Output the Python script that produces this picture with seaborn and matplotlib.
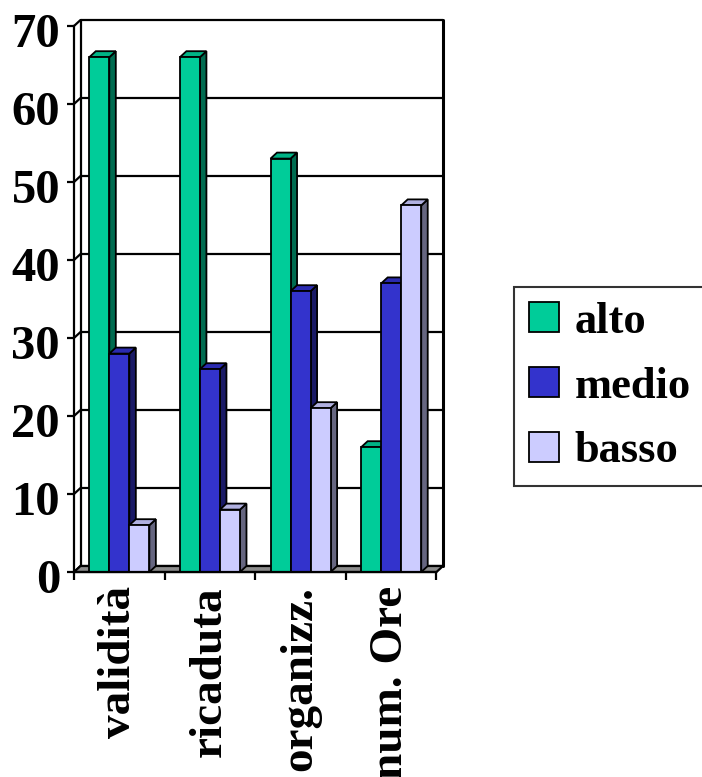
import matplotlib
matplotlib.use("Agg")
import matplotlib.pyplot as plt
import matplotlib.transforms as mtransforms
from matplotlib.patches import Polygon, Rectangle
import seaborn as sns
import pandas as pd

categories = ["validità", "ricaduta", "organizz.", "num. Ore"]
series = ["alto", "medio", "basso"]
alto = [66, 66, 53, 16]
medio = [28, 26, 36, 37]
basso = [6, 8, 21, 47]
yticks = [0, 10, 20, 30, 40, 50, 60, 70]

front_colors = ["#00CC99", "#3333CC", "#CCCCFF"]
side_colors = ["#006B50", "#1A1A66", "#666680"]
top_colors = ["#00B386", "#2B2BB0", "#B0B0E0"]

rows = []
for s, vals in zip(series, [alto, medio, basso]):
    for c, v in zip(categories, vals):
        rows.append({"cat": c, "serie": s, "val": v})
df = pd.DataFrame(rows)

sns.set_style("white")
plt.rcParams["font.family"] = ["Liberation Serif", "DejaVu Serif"]
plt.rcParams["font.weight"] = "bold"
for k in ["text.color", "xtick.color", "ytick.color", "axes.labelcolor",
          "xtick.labelcolor", "ytick.labelcolor"]:
    plt.rcParams[k] = "black"

W, H = 702, 777
fig = plt.figure(figsize=(W / 100, H / 100), dpi=100)
left_px, right_px, bottom_px, top_px = 74, 443, 572, 20
ax = fig.add_axes([left_px / W, (H - bottom_px) / H,
                   (right_px - left_px) / W, (bottom_px - top_px) / H])

sns.barplot(data=df, x="cat", y="val", hue="serie", order=categories,
            hue_order=series, palette=front_colors, saturation=1,
            width=0.663, edgecolor="black", linewidth=1.3, ax=ax,
            legend=True)

handles, labels = ax.get_legend_handles_labels()
ax.get_legend().remove()

bars = [p for p in ax.patches if isinstance(p, Rectangle)
        and p.get_height() > 0 and p.get_width() < 0.5]
bars.sort(key=lambda p: p.get_x())

# depth in data units
px_per_x = (right_px - left_px) / (4 + 0.075)
d = 6.5 / px_per_x
e = 6.0 / 7.8

ax.set_xlim(-0.5, 3.5 + d)
ax.set_ylim(0, 70 + e)

lw = 1.6
# floor
ax.add_patch(Polygon([(-0.5, 0), (3.5, 0), (3.5 + d, e), (-0.5 + d, e)],
                     closed=True, facecolor="#8C8C8C", edgecolor="black",
                     linewidth=lw, zorder=1, clip_on=False))
# back wall gridlines and left wall diagonals
for t in yticks:
    ax.plot([-0.5 + d, 3.5 + d], [t + e, t + e], color="black", lw=lw,
            zorder=0.5, clip_on=False)
    ax.plot([-0.5, -0.5 + d], [t, t + e], color="black", lw=lw,
            zorder=0.5, clip_on=False)
ax.plot([-0.5 + d, -0.5 + d], [e, 70 + e], color="black", lw=lw, zorder=0.5,
        clip_on=False)
ax.plot([3.5 + d, 3.5 + d], [e, 70 + e], color="black", lw=lw + 0.6,
        zorder=0.5, clip_on=False)

# 3D faces of bars
for j, p in enumerate(bars):
    x, w, h = p.get_x(), p.get_width(), p.get_height()
    fc = p.get_facecolor()
    idx = min(range(3), key=lambda k: sum(abs(a - b) for a, b in zip(
        matplotlib.colors.to_rgb(front_colors[k]), fc[:3])))
    z = 10 + 3 * j
    p.set_zorder(z + 1)
    ax.add_patch(Polygon([(x + w, 0), (x + w + d, e), (x + w + d, h + e),
                          (x + w, h)], closed=True,
                         facecolor=side_colors[idx], edgecolor="black",
                         linewidth=1.3, zorder=z, clip_on=False))
    ax.add_patch(Polygon([(x, h), (x + w, h), (x + w + d, h + e),
                          (x + d, h + e)], closed=True,
                         facecolor=top_colors[idx], edgecolor="black",
                         linewidth=1.3, zorder=z, clip_on=False))

for s in ["top", "right"]:
    ax.spines[s].set_visible(False)
ax.spines["left"].set_bounds(0, 70)
ax.spines["bottom"].set_bounds(-0.5, 3.5)
for s in ["left", "bottom"]:
    ax.spines[s].set_linewidth(lw)
    ax.spines[s].set_color("black")
    ax.spines[s].set_zorder(50)

ax.set_yticks(yticks)
ax.set_yticklabels([str(t) for t in yticks])
ax.tick_params(axis="y", left=True, length=5, width=lw, pad=5,
               labelsize=35, color="black", labelcolor="black")
ax.set_xticks(range(len(categories)))
ax.set_xticklabels(categories, rotation=90, fontsize=34, fontweight="bold",
                   color="black")
ax.tick_params(axis="x", which="major", length=0, pad=10)
ax.set_xticks([-0.5, 0.5, 1.5, 2.5, 3.5], minor=True)
ax.tick_params(axis="x", which="minor", bottom=True, length=6, width=lw,
               color="black")
shift = mtransforms.ScaledTranslation(0, -4 / 100, fig.dpi_scale_trans)
for lab in ax.get_yticklabels():
    lab.set_fontweight("bold")
    lab.set_color("black")
    lab.set_transform(lab.get_transform() + shift)
ax.set_xlabel("")
ax.set_ylabel("")
ax.grid(False)
ax.patch.set_alpha(0)

leg = fig.legend(handles, labels, loc="upper left",
                 bbox_to_anchor=(514 / W, 1 - 287 / H),
                 prop={"family": "Liberation Serif", "weight": "bold",
                       "size": 32},
                 frameon=True, fancybox=False, edgecolor="black",
                 handlelength=0.68, handleheight=0.68, handletextpad=0.35,
                 labelspacing=0.56, borderpad=0.33, borderaxespad=0,
                 labelcolor="black")
leg.get_frame().set_linewidth(1.5)
for hdl in leg.legend_handles:
    hdl.set_edgecolor("black")
    hdl.set_linewidth(1.3)

fig.savefig("out.png", dpi=100)
